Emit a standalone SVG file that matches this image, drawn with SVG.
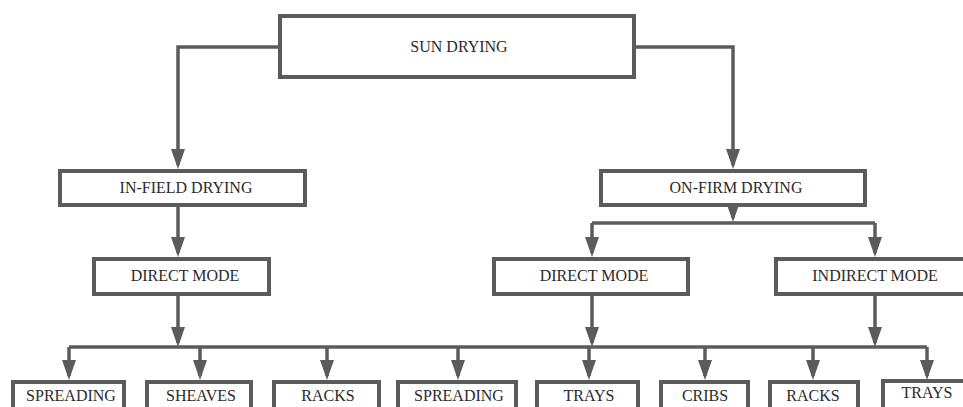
<svg xmlns="http://www.w3.org/2000/svg" width="963" height="407" viewBox="0 0 963 407">
  <style>
    .box { fill: #ffffff; stroke: #5b5b5b; stroke-width: 4; }
    .lbl { font-family: "Liberation Serif", "Times New Roman", serif; font-size: 16px; fill: #2a2a2a; text-anchor: middle; }
    .con { fill: none; stroke: #5b5b5b; stroke-width: 3.5; }
    .arr { marker-end: url(#ah); }
  </style>
  <defs>
    <marker id="ah" viewBox="0 0 20 14" refX="16" refY="7" markerWidth="20" markerHeight="14" markerUnits="userSpaceOnUse" orient="auto">
      <path d="M0,0 L20,7 L0,14 z" fill="#5b5b5b"/>
    </marker>
  </defs>
  <rect width="963" height="407" fill="#ffffff"/>

  <g id="connectors">
    <path class="con arr" d="M280,47 H178 V165"/>
    <path class="con arr" d="M634,47 H733 V165"/>
    <path class="con arr" d="M733,205 V218"/>
    <path class="con" d="M592,223 H875"/>
    <path class="con arr" d="M592,223 V253"/>
    <path class="con arr" d="M875,223 V253"/>
    <path class="con arr" d="M178,205 V253"/>
    <path class="con arr" d="M178,294 V343"/>
    <path class="con arr" d="M592,294 V343"/>
    <path class="con arr" d="M875,294 V343"/>
    <path class="con" d="M69,347 H927"/>
    <path class="con arr" d="M69,347 V376"/>
    <path class="con arr" d="M200,347 V376"/>
    <path class="con arr" d="M327,347 V376"/>
    <path class="con arr" d="M458,347 V376"/>
    <path class="con arr" d="M589,347 V376"/>
    <path class="con arr" d="M705,347 V376"/>
    <path class="con arr" d="M813,347 V376"/>
    <path class="con arr" d="M927,347 V376"/>
  </g>

  <g id="sun-drying">
    <rect class="box" x="280" y="16" width="354" height="61"/>
    <text class="lbl" x="459" y="52">SUN DRYING</text>
  </g>
  <g id="in-field-drying">
    <rect class="box" x="60" y="171" width="245" height="34"/>
    <text class="lbl" x="186" y="193">IN-FIELD DRYING</text>
  </g>
  <g id="on-firm-drying">
    <rect class="box" x="601" y="171" width="264" height="34"/>
    <text class="lbl" x="736" y="193">ON-FIRM DRYING</text>
  </g>
  <g id="direct-mode-left">
    <rect class="box" x="94" y="259" width="175" height="35"/>
    <text class="lbl" x="185" y="281">DIRECT MODE</text>
  </g>
  <g id="direct-mode-right">
    <rect class="box" x="494" y="259" width="194" height="35"/>
    <text class="lbl" x="594" y="281">DIRECT MODE</text>
  </g>
  <g id="indirect-mode">
    <rect class="box" x="776" y="259" width="200" height="35"/>
    <text class="lbl" x="875" y="281">INDIRECT MODE</text>
  </g>

  <g id="spreading-1">
    <rect class="box" x="13" y="382" width="111" height="40"/>
    <text class="lbl" x="71" y="401">SPREADING</text>
  </g>
  <g id="sheaves">
    <rect class="box" x="147" y="382" width="104" height="40"/>
    <text class="lbl" x="201" y="401">SHEAVES</text>
  </g>
  <g id="racks-1">
    <rect class="box" x="274" y="382" width="105" height="40"/>
    <text class="lbl" x="328" y="401">RACKS</text>
  </g>
  <g id="spreading-2">
    <rect class="box" x="398" y="382" width="118" height="40"/>
    <text class="lbl" x="459" y="401">SPREADING</text>
  </g>
  <g id="trays-1">
    <rect class="box" x="537" y="382" width="101" height="40"/>
    <text class="lbl" x="589" y="401">TRAYS</text>
  </g>
  <g id="cribs">
    <rect class="box" x="661" y="382" width="87" height="40"/>
    <text class="lbl" x="705" y="401">CRIBS</text>
  </g>
  <g id="racks-2">
    <rect class="box" x="770" y="382" width="88" height="40"/>
    <text class="lbl" x="813" y="401">RACKS</text>
  </g>
  <g id="trays-2">
    <rect class="box" x="883" y="381" width="100" height="40"/>
    <text class="lbl" x="927" y="398">TRAYS</text>
  </g>
</svg>
